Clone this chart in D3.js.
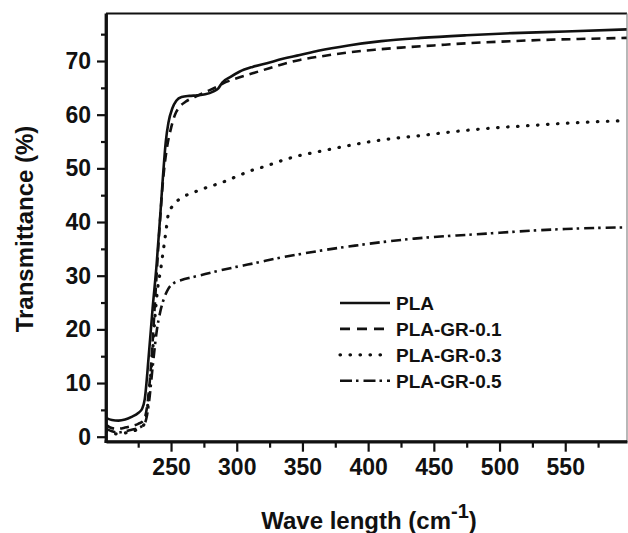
<!DOCTYPE html>
<html>
<head>
<meta charset="utf-8">
<script src="https://cdn.jsdelivr.net/npm/d3@7"></script>
<style>
  html, body { margin: 0; padding: 0; background: #fff; }
  svg { display: block; }
  text { font-family: "Liberation Sans", Arial, sans-serif; font-weight: bold; fill: #111; }
</style>
</head>
<body>
<svg id="chart" width="628" height="533"></svg>
<script>
// ---- data ----
const seriesNames = ["PLA", "PLA-GR-0.1", "PLA-GR-0.3", "PLA-GR-0.5"];

const plaX = [200.5, 205, 210, 215, 220, 225, 228, 230, 233, 236, 239, 242, 244, 246, 248, 251, 254, 258, 264, 270, 276, 282, 286, 289, 295, 302, 312, 323, 335, 348, 362, 385, 410, 440, 475, 510, 550, 597];
const plaY = [3.5, 3.1, 3.0, 3.2, 3.7, 4.4, 5.2, 7, 15, 24, 32, 42, 49, 55, 58.5, 61.2, 62.6, 63.3, 63.5, 63.6, 63.8, 64.3, 64.9, 66.0, 67.0, 68.0, 68.9, 69.6, 70.4, 71.1, 71.9, 72.9, 73.7, 74.3, 74.8, 75.2, 75.5, 75.9];

const gr01X = [200.5, 205, 210, 215, 220, 225, 229, 232, 235, 238, 241, 244, 247, 250, 253, 256, 261, 268, 277, 285, 292, 300, 308, 320, 335, 348, 365, 385, 405, 425, 450, 475, 500, 530, 560, 597];
const gr01Y = [2.2, 1.6, 1.5, 1.7, 2.0, 2.4, 3.0, 6, 14, 26, 38, 48, 54, 57.5, 60, 61.3, 62.4, 63.3, 64.3, 65.2, 66.1, 66.8, 67.4, 68.3, 69.4, 70.2, 70.9, 71.6, 72.1, 72.5, 72.9, 73.3, 73.6, 73.9, 74.1, 74.3];

const gr03X = [200.5, 205, 210, 215, 220, 225, 230, 233, 236, 238, 240, 242, 244, 246, 248, 252, 256, 260, 268, 278, 288, 300, 310, 322, 335, 348, 360, 380, 400, 420, 440, 460, 480, 500, 525, 550, 575, 597];
const gr03Y = [1.0, 0.6, 0.5, 0.7, 1.0, 1.4, 2.5, 7.5, 16, 23, 28, 31, 34.5, 38, 41.5, 43.2, 44.2, 44.8, 45.6, 46.5, 47.3, 48.5, 49.5, 50.4, 51.5, 52.4, 53.0, 54.0, 54.9, 55.6, 56.1, 56.7, 57.2, 57.6, 58.0, 58.4, 58.7, 58.9];

const gr05X = [200.5, 205, 210, 215, 220, 225, 230, 233, 236, 239, 242, 245, 248, 252, 258, 266, 276, 286, 295, 305, 315, 330, 350, 370, 390, 412, 435, 455, 475, 500, 525, 550, 575, 597];
const gr05Y = [1.5, 1.0, 0.8, 1.0, 1.3, 1.6, 2.5, 6, 13, 19.5, 23.5, 26, 27.6, 28.6, 29.2, 29.7, 30.3, 30.9, 31.4, 31.9, 32.4, 33.2, 34.1, 34.9, 35.6, 36.3, 36.9, 37.3, 37.6, 38.0, 38.4, 38.7, 38.9, 39.0];

const xMajorTicks = [250, 300, 350, 400, 450, 500, 550];
const xMinorTicks = [225, 275, 325, 375, 425, 475, 525, 575];
const yMajorTicks = [0, 10, 20, 30, 40, 50, 60, 70];
const yMinorTicks = [5, 15, 25, 35, 45, 55, 65, 75];

const xTitle = "Wave length (cm";
const xTitleSup = "-1";
const yTitle = "Transmittance (%)";

// ---- layout ----
const svg = d3.select("#chart");
const pLeft = 106, pRight = 627, pTop = 13.5, pBottom = 441.7;

const x = d3.scaleLinear().domain([200.5, 597]).range([pLeft, pRight]);
const y = d3.scaleLinear().domain([-0.93, 78.85]).range([pBottom, pTop]);

const dashes = [null, "9,6", "0.5,9.5", "10,4,2.5,5"];
const series = [
  { name: seriesNames[0], xs: plaX, ys: plaY },
  { name: seriesNames[1], xs: gr01X, ys: gr01Y },
  { name: seriesNames[2], xs: gr03X, ys: gr03Y },
  { name: seriesNames[3], xs: gr05X, ys: gr05Y }
];

svg.append("defs").append("clipPath").attr("id", "clip")
  .append("rect").attr("x", pLeft).attr("y", pTop).attr("width", pRight - pLeft).attr("height", pBottom - pTop);

const line = d3.line().x(d => x(d[0])).y(d => y(d[1])).curve(d3.curveMonotoneX);

const g = svg.append("g").attr("clip-path", "url(#clip)");
series.forEach((s, i) => {
  const pts = s.xs.map((v, k) => [v, s.ys[k]]);
  g.append("path")
    .attr("d", line(pts))
    .attr("fill", "none")
    .attr("stroke", "#111")
    .attr("stroke-width", i === 2 ? 3.2 : 2.6)
    .attr("stroke-linecap", i === 2 ? "round" : "butt")
    .attr("stroke-dasharray", dashes[i]);
});

// frame top / right
svg.append("line").attr("x1", pLeft).attr("x2", pRight).attr("y1", pTop).attr("y2", pTop)
  .attr("stroke", "#111").attr("stroke-width", 2);
svg.append("line").attr("x1", pRight).attr("x2", pRight).attr("y1", pTop).attr("y2", pBottom)
  .attr("stroke", "#888").attr("stroke-width", 1.2);

// axes
const xAxis = svg.append("g").attr("transform", `translate(0,${pBottom})`)
  .call(d3.axisBottom(x).tickValues(xMajorTicks).tickSize(10).tickSizeOuter(0).tickPadding(7));
const xAxisMinor = svg.append("g").attr("transform", `translate(0,${pBottom})`)
  .call(d3.axisBottom(x).tickValues(xMinorTicks).tickSize(6).tickSizeOuter(0).tickFormat(""));
const yAxis = svg.append("g").attr("transform", `translate(${pLeft},0)`)
  .call(d3.axisLeft(y).tickValues(yMajorTicks).tickSize(9).tickSizeOuter(0).tickPadding(6));
const yAxisMinor = svg.append("g").attr("transform", `translate(${pLeft},0)`)
  .call(d3.axisLeft(y).tickValues(yMinorTicks).tickSize(5).tickSizeOuter(0).tickFormat(""));

[xAxis, xAxisMinor, yAxis, yAxisMinor].forEach(a => {
  a.select(".domain").attr("stroke", "#111").attr("stroke-width", 2.8);
  a.selectAll(".tick line").attr("stroke", "#111").attr("stroke-width", 2.2);
  a.selectAll("text").attr("font-size", 23).attr("fill", "#111")
    .attr("font-family", "'Liberation Sans', Arial, sans-serif").attr("font-weight", "bold");
});
xAxis.select(".domain").attr("d", `M${pLeft - 1.4},0H${pRight}`);
yAxis.select(".domain").attr("d", `M0,${pBottom + 1.4}V${pTop}`);

// axis titles
const xt = svg.append("text").attr("x", 369).attr("y", 529).attr("text-anchor", "middle")
  .attr("font-size", 24);
xt.append("tspan").text(xTitle);
xt.append("tspan").text(xTitleSup).attr("font-size", 20).attr("dy", -11);
xt.append("tspan").text(")").attr("dy", 11);

svg.append("text").attr("transform", "translate(33,229) rotate(-90)")
  .attr("text-anchor", "middle").attr("font-size", 24).text(yTitle);

// legend
const lg = svg.append("g");
const legendDash = [null, "10,7", "0.5,9.5", "12,4,2.5,5"];
series.forEach((s, i) => {
  const yy = 303 + i * 25.9;
  lg.append("line").attr("x1", 340).attr("x2", 390).attr("y1", yy).attr("y2", yy)
    .attr("stroke", "#111")
    .attr("stroke-width", i === 2 ? 3.2 : 2.6)
    .attr("stroke-linecap", i === 2 ? "round" : "butt")
    .attr("stroke-dasharray", legendDash[i]);
  lg.append("text").attr("x", 396).attr("y", yy).attr("dy", "0.36em")
    .attr("font-size", 19).text(s.name);
});
</script>
</body>
</html>
